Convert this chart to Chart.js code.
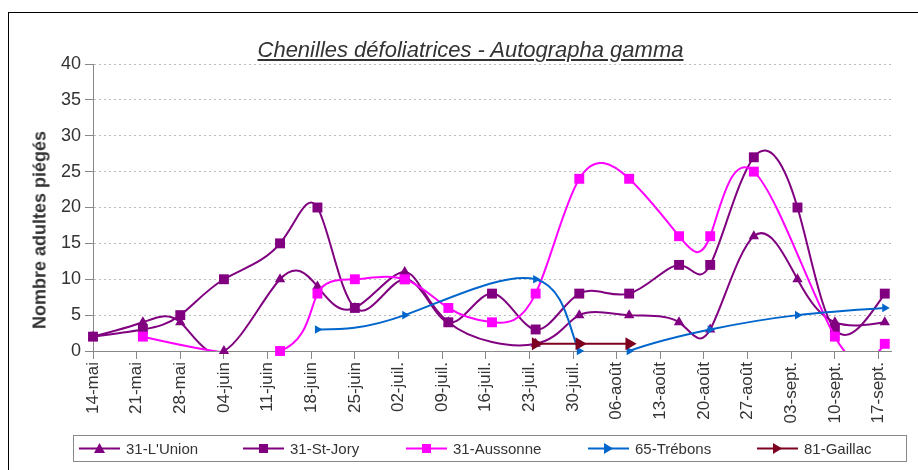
<!DOCTYPE html>
<html>
<head>
<meta charset="utf-8">
<script src="https://cdn.jsdelivr.net/npm/chart.js@4.4.1/dist/chart.umd.min.js"></script>
<style>
    body { margin: 0; background: #fff; font-family: 'Liberation Sans', Arial, sans-serif; }
    #wrap { position: relative; width: 918px; height: 470px; overflow: hidden; }
    #frame { position: absolute; left: 8px; top: 12px; width: 1000px; height: 600px; border-left: 1px solid #000; border-top: 1px solid #000; }
    #chart { position: absolute; left: 0; top: 0; }
    #title { position: absolute; left: 0; top: 39px; width: 941px; text-align: center; font-size: 22px; line-height: 22px; font-style: italic; text-decoration: underline; color: #333; }
    #ytitle { position: absolute; left: 40px; top: 230px; transform: translate(-50%, -50%) rotate(-90deg); font-size: 18px; font-weight: bold; color: #333; white-space: nowrap; }
    #legend { position: absolute; left: 73px; top: 435px; width: 832px; height: 25px; border: 1px solid #888; }
    .item { position: absolute; top: 0; height: 25px; display: flex; align-items: center; font-size: 15px; color: #333; white-space: nowrap; }
    .item svg { margin-right: 6px; }
</style>
</head>
<body>
<div id="wrap">
    <div id="frame"></div>
    <canvas id="chart" width="918" height="470"></canvas>
    <div id="title">Chenilles défoliatrices - Autographa gamma</div>
    <div id="ytitle">Nombre adultes piégés</div>
    <div id="legend"></div>
</div>
<script>
// x values are days counted from 14-mai
const tickLabels = ['14-mai', '21-mai', '28-mai', '04-juin', '11-juin', '18-juin', '25-juin', '02-juil.', '09-juil.',
    '16-juil.', '23-juil.', '30-juil.', '06-août', '13-août', '20-août', '27-août', '03-sept.', '10-sept.', '17-sept.']

const seriesNames = ["31-L'Union", '31-St-Jory', '31-Aussonne', '65-Trébons', '81-Gaillac']

const unionDays = [0, 8, 14, 21, 30, 36, 42, 50, 57, 71, 78, 86, 94, 99, 106, 113, 119, 127]
const unionValues = [2, 4, 4, 0, 10, 9, 6, 11, 4, 1, 5, 5, 4, 3, 16, 10, 4, 4]

const joryDays = [0, 8, 14, 21, 30, 36, 42, 50, 57, 64, 71, 78, 86, 94, 99, 106, 113, 119, 127]
const joryValues = [2, 3, 5, 10, 15, 20, 6, 10, 4, 8, 3, 8, 8, 12, 12, 27, 20, 3, 8]

const aussonneDays = [8, 30, 36, 42, 50, 57, 64, 71, 78, 86, 94, 99, 106, 119, 127]
const aussonneValues = [2, 0, 8, 10, 10, 6, 4, 8, 24, 24, 16, 16, 25, 2, 1]

const trebonsDays = [36, 50, 71, 78, 86, 99, 113, 127]
const trebonsValues = [3, 5, 10, 0, 0, 3, 5, 6]

const gaillacDays = [71, 78, 86]
const gaillacValues = [1, 1, 1]

const seriesData = [
    [unionDays, unionValues],
    [joryDays, joryValues],
    [aussonneDays, aussonneValues],
    [trebonsDays, trebonsValues],
    [gaillacDays, gaillacValues],
]

const looks = [
    { color: '#800080', style: 'triangle', rotation: 0, radius: 6 },
    { color: '#800080', style: 'rect', rotation: 0, radius: 7 },
    { color: '#ff00ff', style: 'rect', rotation: 0, radius: 7 },
    { color: '#0066cc', style: 'triangle', rotation: 90, radius: 5 },
    { color: '#7e0021', style: 'triangle', rotation: 90, radius: 7.5 },
]

const toPoints = (days, values) => days.map((d, i) => ({ x: d, y: values[i] }))

// natural cubic spline slopes of v over t
function splineSlopes(t, v) {
    const n = v.length
    const M = new Array(n).fill(0)
    if (n > 2) {
        const a = [], b = [], c = [], r = []
        for (let i = 1; i < n - 1; i++) {
            const h0 = t[i] - t[i - 1], h1 = t[i + 1] - t[i]
            a.push(h0); b.push(2 * (h0 + h1)); c.push(h1)
            r.push(6 * ((v[i + 1] - v[i]) / h1 - (v[i] - v[i - 1]) / h0))
        }
        const m = r.length
        for (let i = 1; i < m; i++) {
            const w = a[i] / b[i - 1]
            b[i] -= w * c[i - 1]
            r[i] -= w * r[i - 1]
        }
        M[m] = r[m - 1] / b[m - 1]
        for (let i = m - 2; i >= 0; i--) M[i + 1] = (r[i] - c[i] * M[i + 2]) / b[i]
    }
    const out = []
    for (let i = 0; i < n - 1; i++) {
        const h = t[i + 1] - t[i]
        const s = (v[i + 1] - v[i]) / h
        out.push({
            h: h,
            d0: s - h * (2 * M[i] + M[i + 1]) / 6,
            d1: s + h * (M[i] + 2 * M[i + 1]) / 6,
        })
    }
    return out
}

// replace Chart.js control points by a parametric cubic spline (one step per point)
const smoothPlugin = {
    id: 'smooth',
    beforeDatasetDraw(chart, args) {
        const meta = args.meta
        const ds = chart.data.datasets[args.index]
        if (ds.showLine === false || !ds.tension || !meta.dataset) return
        meta.dataset.updateControlPoints(chart.chartArea, 'x')
        const pts = meta.data
        if (pts.length < 3) return
        const t = pts.map((p, i) => i)
        const sx = splineSlopes(t, pts.map(p => p.x))
        const sy = splineSlopes(t, pts.map(p => p.y))
        for (let i = 0; i < pts.length - 1; i++) {
            pts[i].cp2x = pts[i].x + sx[i].d0 / 3
            pts[i].cp2y = pts[i].y + sy[i].d0 / 3
            pts[i + 1].cp1x = pts[i + 1].x - sx[i].d1 / 3
            pts[i + 1].cp1y = pts[i + 1].y - sy[i].d1 / 3
        }
    },
}

const datasets = []
seriesData.forEach(([days, values], i) => {
    const look = looks[i]
    // the curve, clipped to the plot like the original
    datasets.push({
        label: seriesNames[i],
        data: toPoints(days, values),
        borderColor: look.color,
        borderWidth: 2,
        pointRadius: 0,
        tension: i == 4 ? 0 : 0.5,
        order: 20 - i * 2,
    })
    // the markers, not clipped
    datasets.push({
        label: seriesNames[i] + ' markers',
        data: toPoints(days, values),
        showLine: false,
        pointStyle: look.style,
        pointRotation: look.rotation,
        pointRadius: look.radius,
        pointBackgroundColor: look.color,
        pointBorderColor: look.color,
        pointBorderWidth: 0,
        clip: false,
        order: 19 - i * 2,
    })
})

Chart.defaults.font.family = "'Liberation Sans', Arial, sans-serif"
Chart.defaults.color = '#333'

const chart = new Chart(document.getElementById('chart'), {
    type: 'line',
    data: { datasets: datasets },
    plugins: [smoothPlugin],
    options: {
        responsive: false,
        animation: false,
        layout: { padding: { left: 0, right: 27, top: 64, bottom: 0 } },
        elements: { line: { capBezierPoints: false } },
        plugins: { legend: { display: false }, tooltip: { enabled: false } },
        scales: {
            x: {
                type: 'linear',
                min: 0,
                max: 128,
                afterFit: (scale) => { scale.height = 119 },
                grid: { drawOnChartArea: false, tickLength: 8, tickColor: '#888' },
                border: { color: '#888' },
                ticks: {
                    stepSize: 7,
                    autoSkip: false,
                    includeBounds: false,
                    minRotation: 90,
                    maxRotation: 90,
                    padding: 3,
                    font: { size: 17 },
                    callback: (v) => tickLabels[v / 7],
                },
            },
            y: {
                min: 0,
                max: 40,
                afterFit: (scale) => { scale.width = 93 },
                grid: { color: '#bbb', tickColor: '#888', tickLength: 8, tickBorderDash: [] },
                border: { color: '#888', dash: [2, 3] },
                ticks: { stepSize: 5, padding: 4, font: { size: 18 } },
            },
        },
    },
})

// legend in a box under the chart
const legendLefts = [5, 169, 332, 514, 683]
const legend = document.getElementById('legend')
seriesNames.forEach((name, i) => {
    const look = looks[i]
    let mark
    if (look.style == 'rect') {
        mark = `<rect x="16" y="2" width="9" height="9" fill="${look.color}"/>`
    } else if (look.rotation == 90) {
        mark = `<polygon points="16,1 25,6.5 16,12" fill="${look.color}"/>`
    } else {
        mark = `<polygon points="20.5,1 26,11 15,11" fill="${look.color}"/>`
    }
    const item = document.createElement('div')
    item.className = 'item'
    item.style.left = legendLefts[i] + 'px'
    item.innerHTML = `<svg width="41" height="13"><line x1="0" y1="6.5" x2="41" y2="6.5" stroke="${look.color}" stroke-width="2"/>${mark}</svg><span></span>`
    item.querySelector('span').textContent = name
    legend.appendChild(item)
})
</script>
</body>
</html>
